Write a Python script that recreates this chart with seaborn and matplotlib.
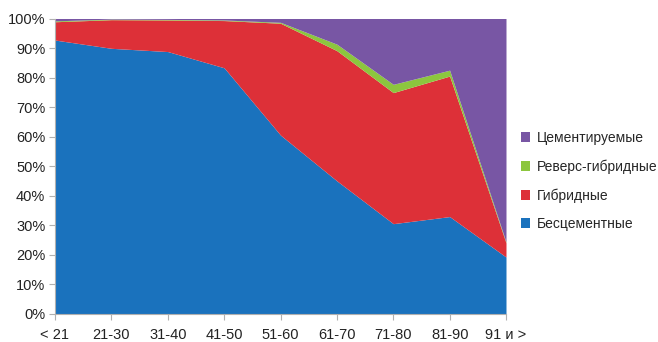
import numpy as np
import pandas as pd
import matplotlib
matplotlib.use("Agg")
import matplotlib.pyplot as plt
import seaborn as sns
from matplotlib.patches import Patch

categories = ["< 21", "21-30", "31-40", "41-50", "51-60", "61-70", "71-80", "81-90", "91 и >"]
cementless = [92.7, 89.9, 88.8, 83.3, 60.5, 45.0, 30.5, 32.9, 19.2]
hybrid = [6.2, 9.7, 10.7, 16.0, 37.9, 44.1, 44.4, 47.6, 4.8]
reverse_hybrid = [0.3, 0.2, 0.2, 0.2, 0.3, 2.2, 2.8, 2.0, 0.3]
cemented = [0.8, 0.2, 0.3, 0.5, 1.3, 8.7, 22.3, 17.5, 75.7]
series_names = ["Бесцементные", "Гибридные", "Реверс-гибридные", "Цементируемые"]
colors = ["#1a72bd", "#dd3038", "#8cc63e", "#7856a4"]

df = pd.DataFrame({"cat": categories, series_names[0]: cementless, series_names[1]: hybrid,
                   series_names[2]: reverse_hybrid, series_names[3]: cemented})

sns.set_theme(style="white")
plt.rcParams["font.family"] = ["Liberation Sans", "DejaVu Sans"]

fig = plt.figure(figsize=(6.58, 3.42), dpi=100)
ax = fig.add_axes([55/658, 1 - 313.7/342, (506-55)/658, (313.7-18.5)/342])

x = np.arange(len(categories))
ax.stackplot(x, [df[n] for n in series_names], colors=colors, linewidth=0)

ax.set_xlim(0, len(categories) - 1)
ax.set_ylim(0, 100)
ax.set_yticks(np.arange(0, 101, 10))
ax.set_yticklabels([f"{v}%" for v in range(0, 101, 10)], fontsize=10.5, color="#222222")
ax.set_xticks(x)
ax.set_xticklabels(categories, fontsize=10.5, color="#222222")
ax.tick_params(axis="both", which="both", length=4, width=0.8, color="#b0b0b0",
               direction="out", bottom=True, left=True, pad=3)
ax.tick_params(axis="x", pad=6)
for s in ["top", "right"]:
    ax.spines[s].set_visible(False)
for s in ["left", "bottom"]:
    ax.spines[s].set_color("#b0b0b0")
    ax.spines[s].set_linewidth(0.8)
ax.grid(False)

handles = [Patch(facecolor=c, edgecolor="none") for c in colors[::-1]]
leg = fig.legend(handles, series_names[::-1], loc="upper left",
                 bbox_to_anchor=(515/658, 1 - 125/342), frameon=False,
                 fontsize=10, handlelength=0.7, handleheight=0.7,
                 labelspacing=1.05, handletextpad=0.5, borderaxespad=0)

fig.savefig("out.png", dpi=100)
